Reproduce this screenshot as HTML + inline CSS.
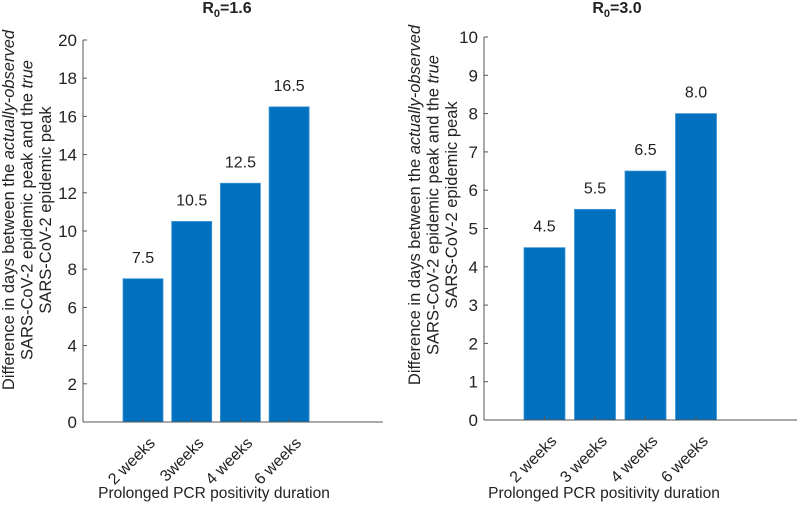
<!DOCTYPE html>
<html><head><meta charset="utf-8"><style>
body{margin:0;background:#fff}
svg text{font-family:"Liberation Sans",Arial,sans-serif;fill:#222}
</style></head><body>
<svg id="c" width="797" height="504" xmlns="http://www.w3.org/2000/svg"></svg>
<script>
const categoriesLeft=["2 weeks","3weeks","4 weeks","6 weeks"];
const valuesLeft=[7.5,10.5,12.5,16.5];
const labelsLeft=["7.5","10.5","12.5","16.5"];
const ticksLeft=[0,2,4,6,8,10,12,14,16,18,20];
const categoriesRight=["2 weeks","3 weeks","4 weeks","6 weeks"];
const valuesRight=[4.5,5.5,6.5,8.0];
const labelsRight=["4.5","5.5","6.5","8.0"];
const ticksRight=[0,1,2,3,4,5,6,7,8,9,10];
const svg=document.getElementById('c');
const NS='http://www.w3.org/2000/svg';
function mk(t,a,p){const e=document.createElementNS(NS,t);for(const k in a)e.setAttribute(k,a[k]);(p||svg).appendChild(e);return e;}
function panel(cfg){
  const g=mk('g',{});
  
  
  const y=v=>cfg.bottom-(v-0)/(cfg.ymax)*(cfg.bottom-cfg.top);
  const x=i=>cfg.x0+cfg.step*i;
  cfg.vals.forEach((v,i)=>{
    const r=mk('rect',{x:x(i)-cfg.bw/2,y:y(v),width:cfg.bw,height:y(0)-y(v),fill:'#0070BF',stroke:'#3d95d6','stroke-width':0.8},g);
    
    
    const t=mk('text',{x:x(i),y:y(v)-16,'text-anchor':'middle','font-size':16},g);t.textContent=cfg.labels[i];
    
    
    mk('line',{x1:x(i),x2:x(i),y1:cfg.bottom,y2:cfg.bottom-4,stroke:'#555'},g);
    const tl=mk('text',{x:0,y:0,'text-anchor':'end','font-size':16,transform:`translate(${x(i)+13},${cfg.bottom+22}) rotate(-45)`},g);tl.textContent=cfg.cats[i];
    
    
  });
  mk('line',{x1:cfg.ax,x2:cfg.ax,y1:cfg.top,y2:cfg.bottom,stroke:'#555'},g);
  mk('line',{x1:cfg.ax,x2:cfg.xend,y1:cfg.bottom,y2:cfg.bottom,stroke:'#555'},g);
  cfg.ticks.forEach(v=>{
    mk('line',{x1:cfg.ax,x2:cfg.ax+4,y1:y(v),y2:y(v),stroke:'#555'},g);
    const t=mk('text',{x:cfg.ax-6,y:y(v)+6,'text-anchor':'end','font-size':17},g);t.textContent=v;
    
    
  });
  const ti=mk('text',{x:cfg.tx,y:13,'text-anchor':'middle','font-size':16,'font-weight':'bold'},g);
  ti.innerHTML='R<tspan font-size="11" dy="4">0</tspan><tspan dy="-4">='+cfg.r0+'</tspan>';
  
  
  const xt=mk('text',{x:cfg.tx-13,y:498,'text-anchor':'middle','font-size':15.5},g);xt.textContent='Prolonged PCR positivity duration';
  
  
  const yt=mk('text',{'text-anchor':'middle','font-size':16.5,transform:`translate(${cfg.yx},${cfg.yc}) rotate(-90)`},g);
  yt.innerHTML='<tspan x="0" dy="0">Difference in days between the  <tspan font-style="italic">actually-observed</tspan></tspan><tspan x="0" dy="18.5">SARS-CoV-2 epidemic peak and the  <tspan font-style="italic">true</tspan></tspan><tspan x="0" dy="18.5">SARS-CoV-2 epidemic peak</tspan>';
  yt.setAttribute('xml:space','preserve');
  
  
}
panel({name:'panel-r0-1-6',cats:categoriesLeft,vals:valuesLeft,labels:labelsLeft,ticks:ticksLeft,ymax:20,top:40,bottom:422,ax:83,xend:383,x0:143,step:48.7,bw:40,r0:'1.6',tx:227,yx:14,yc:210});
panel({name:'panel-r0-3-0',cats:categoriesRight,vals:valuesRight,labels:labelsRight,ticks:ticksRight,ymax:10,top:37,bottom:420,ax:484,xend:797,x0:544.5,step:50.5,bw:41,r0:'3.0',tx:617,yx:420,yc:205});
</script>
</body></html>
